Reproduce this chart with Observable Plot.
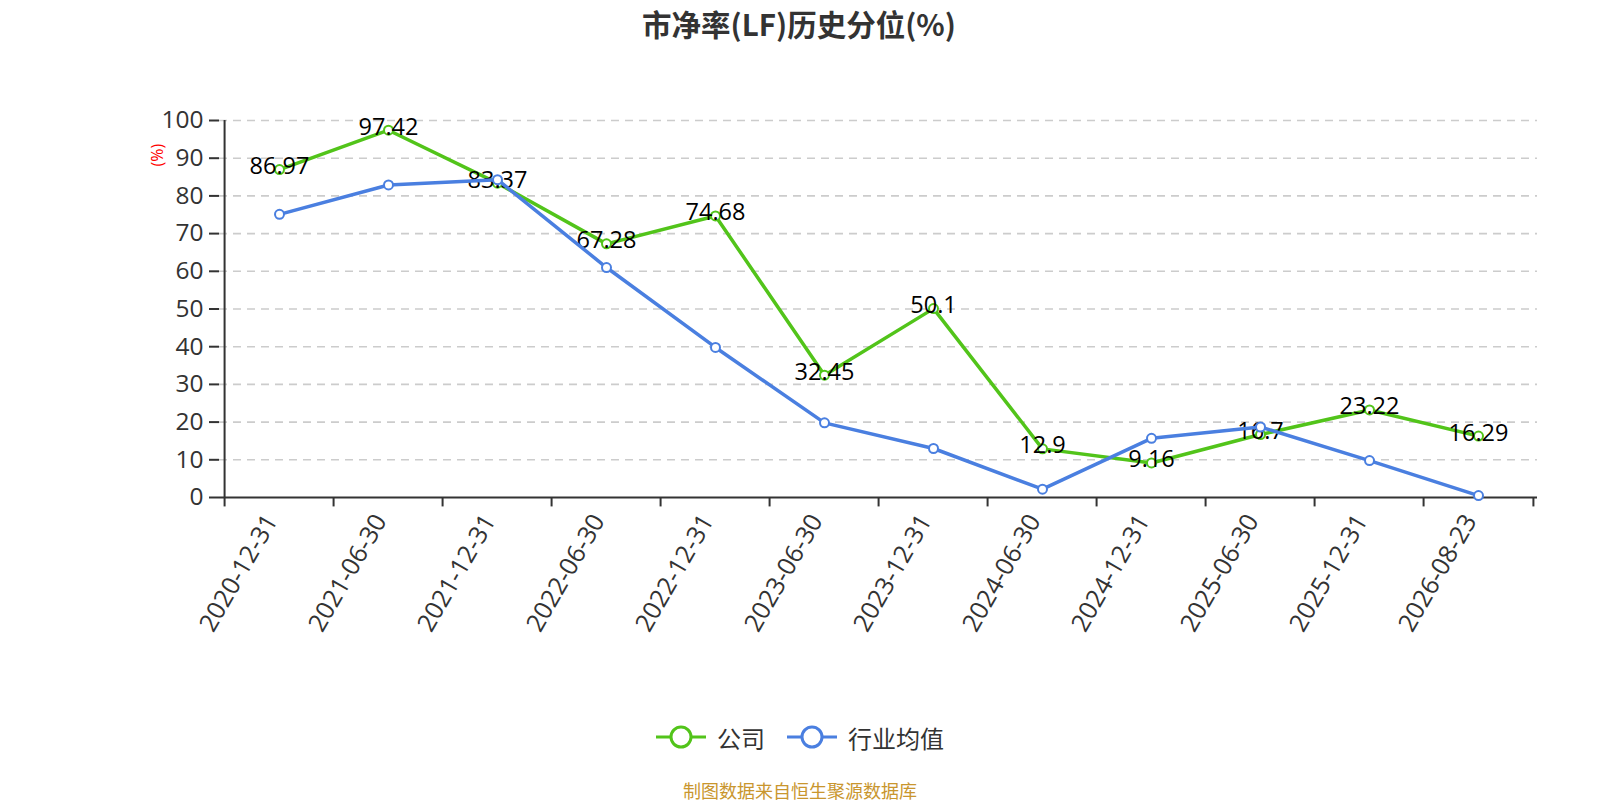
<!DOCTYPE html>
<html>
<head>
<meta charset="utf-8">
<script src="https://cdn.jsdelivr.net/npm/d3@7"></script>
<script src="https://cdn.jsdelivr.net/npm/@observablehq/plot@0.6"></script>
<style>
  html, body { margin: 0; background: #fff; overflow: hidden; font-family: "Noto Sans CJK SC", "Noto Sans", sans-serif; }
  #wrap { position: relative; width: 1600px; height: 800px; }
  #title { position: absolute; left: 0; width: 1598px; top: 0px; height: 46px; line-height: 46px; text-align: center; font-size: 29.5px; font-weight: bold; color: #333; }
  #chart { position: absolute; left: 0; top: 50px; }
  #chart svg { max-width: none; }
  #legend { position: absolute; left: 0; width: 1600px; top: 722px; height: 30px; display: flex; justify-content: center; align-items: center; font-size: 24px; color: #333; }
  #legend .item { display: flex; align-items: center; margin: 0 11px; }
  #legend svg { margin-right: 11px; }
  #caption { position: absolute; left: 0; width: 1600px; top: 776px; height: 28px; line-height: 28px; text-align: center; font-size: 18px; color: #c9962e; }
</style>
</head>
<body>
<div id="wrap">
  <div id="title">市净率(LF)历史分位(%)</div>
  <div id="chart"></div>
  <div id="legend"></div>
  <div id="caption">制图数据来自恒生聚源数据库</div>
</div>
<script>
const dates = ["2020-12-31","2021-06-30","2021-12-31","2022-06-30","2022-12-31","2023-06-30","2023-12-31","2024-06-30","2024-12-31","2025-06-30","2025-12-31","2026-08-23"];
const company = [86.97, 97.42, 83.37, 67.28, 74.68, 32.45, 50.1, 12.9, 9.16, 16.7, 23.22, 16.29];
const industry = [75.1, 82.9, 84.3, 61.0, 39.8, 19.8, 13.0, 2.2, 15.7, 18.7, 9.8, 0.5];
const yTicks = [0,10,20,30,40,50,60,70,80,90,100];
const seriesNames = ["公司", "行业均值"];
const colors = ["#52c41a", "#4a7fe0"];

const compData = dates.map((d, i) => ({date: d, value: company[i]}));
const indData = dates.map((d, i) => ({date: d, value: industry[i]}));

const W = 1600, mL = 219, mR = 63;
const step = (W - mL - mR) / dates.length;
const numFont = '"Open Sans", "Noto Sans", sans-serif';

const chart = Plot.plot({
  width: W,
  height: 650,
  marginTop: 70,
  marginBottom: 203,
  marginLeft: mL,
  marginRight: mR,
  style: {fontFamily: numFont, fontSize: "24px", background: "#fff", overflow: "visible", maxWidth: "none"},
  x: {type: "point", domain: dates, padding: 0.5},
  y: {domain: [0, 100]},
  marks: [
    Plot.ruleY(yTicks.filter(t => t > 0), {stroke: "#ccc", strokeWidth: 1.6, strokeDasharray: "8,6"}),
    Plot.axisY({ticks: yTicks, tickSize: 10, tickPadding: 6, fontSize: 24.5, fontFamily: numFont, color: "#333", stroke: "#333", strokeWidth: 2, label: null}),
    Plot.axisX({tickSize: 0, tickRotate: -60, tickPadding: 15, dx: -8, dy: 4, fontSize: 25, fontFamily: numFont, color: "#333", label: null}),
    Plot.ruleX([dates[0]], {y1: 0, y2: 100, dx: -step / 2, stroke: "#333", strokeWidth: 2}),
    Plot.ruleY([0], {stroke: "#333", strokeWidth: 2}),
    Plot.ruleX(dates, {y1: 0, y2: -2.5, dx: -step / 2, stroke: "#333", strokeWidth: 2}),
    Plot.ruleX([dates[dates.length - 1]], {y1: 0, y2: -2.5, dx: step / 2, stroke: "#333", strokeWidth: 2}),
    Plot.text(["(%)"], {frameAnchor: "top-left", dx: -68, dy: 46, rotate: -90, fill: "red", fontSize: 16, fontFamily: numFont}),
    Plot.line(compData, {x: "date", y: "value", stroke: colors[0], strokeWidth: 3.5}),
    Plot.dot(compData, {x: "date", y: "value", r: 4.5, fill: "#fff", stroke: colors[0], strokeWidth: 2}),
    Plot.text(compData, {x: "date", y: "value", text: d => String(d.value), fontSize: 23.5, fontFamily: numFont, fill: "#000", dy: -3}),
    Plot.line(indData, {x: "date", y: "value", stroke: colors[1], strokeWidth: 3.5}),
    Plot.dot(indData, {x: "date", y: "value", r: 4.5, fill: "#fff", stroke: colors[1], strokeWidth: 2})
  ]
});
document.getElementById("chart").appendChild(chart);

const legend = document.getElementById("legend");
seriesNames.forEach((name, i) => {
  const item = document.createElement("div");
  item.className = "item";
  item.innerHTML = `<svg width="50" height="30"><line x1="0" y1="15" x2="50" y2="15" stroke="${colors[i]}" stroke-width="3"/><circle cx="25" cy="15" r="10" fill="#fff" stroke="${colors[i]}" stroke-width="3"/></svg><span>${name}</span>`;
  legend.appendChild(item);
});
</script>
</body>
</html>
